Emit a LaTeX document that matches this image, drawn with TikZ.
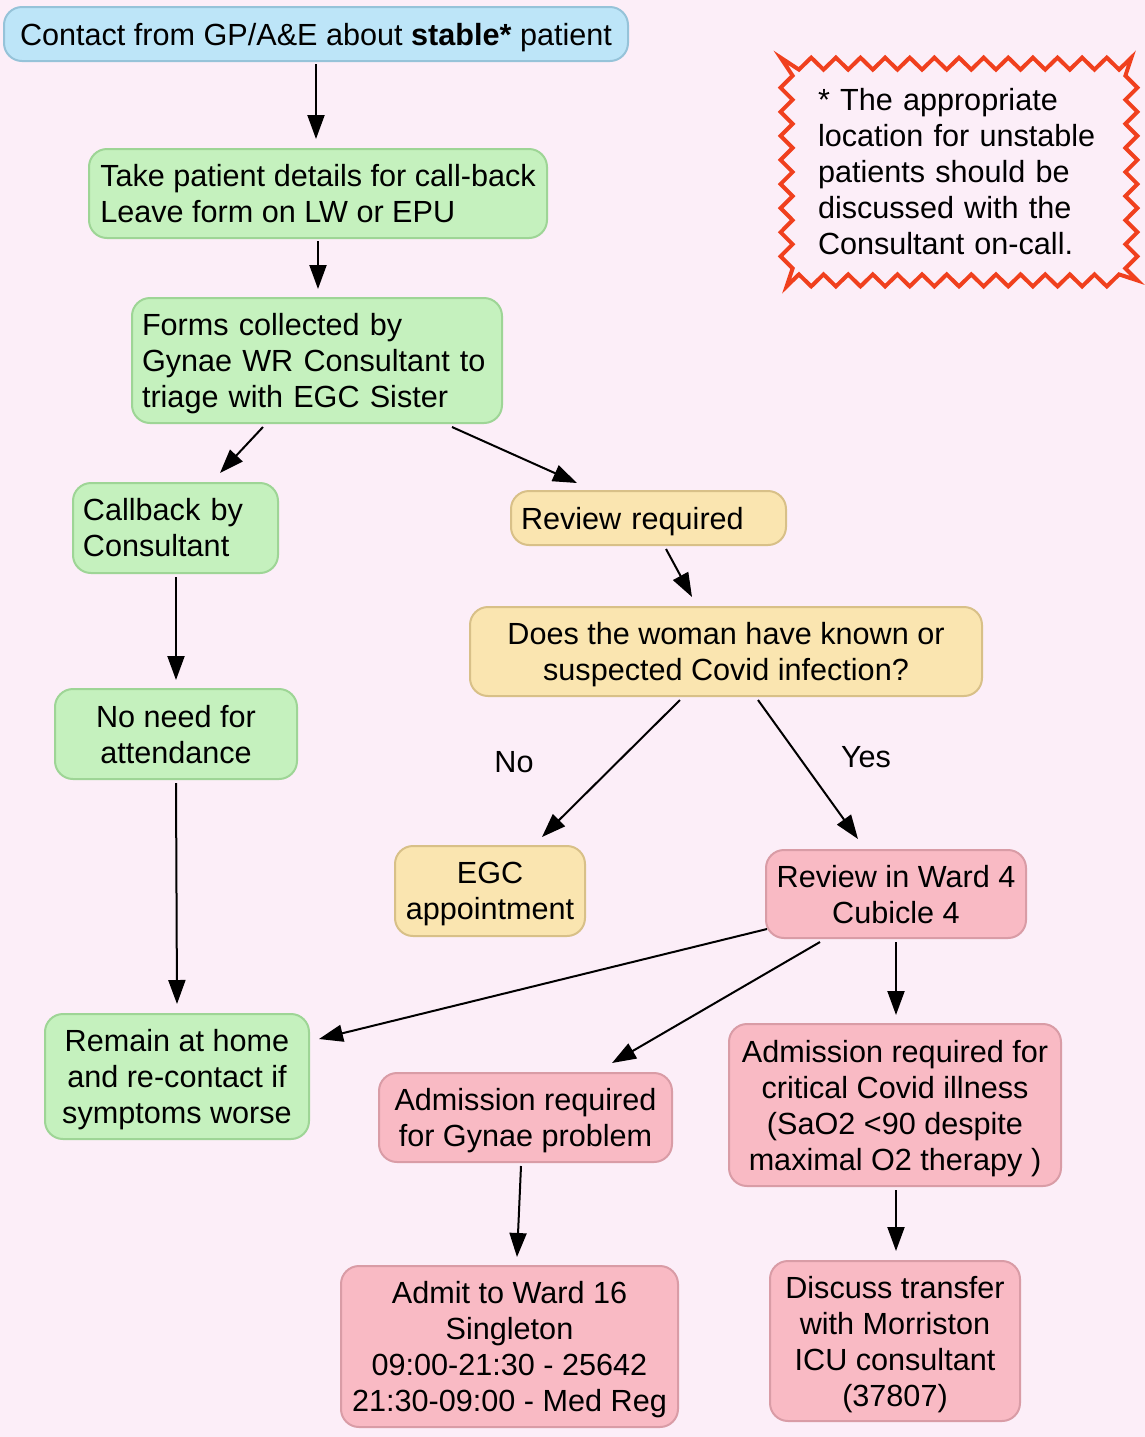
\documentclass[tikz,border=0pt]{standalone}
\usepackage{fontspec}
\setmainfont{Liberation Sans}
\usetikzlibrary{arrows.meta,calc}
\definecolor{bgc}{HTML}{FCEEF8}
\definecolor{bluefill}{HTML}{BDE5F8}
\definecolor{blueline}{HTML}{96C3D9}
\definecolor{greenfill}{HTML}{C5F1BE}
\definecolor{greenline}{HTML}{9ED596}
\definecolor{yellowfill}{HTML}{FAE5B0}
\definecolor{yellowline}{HTML}{D8C088}
\definecolor{pinkfill}{HTML}{F9BAC4}
\definecolor{pinkline}{HTML}{D99CA6}
\definecolor{zigc}{HTML}{F0401E}
\newcommand{\nodepth}[1]{\raisebox{0pt}[\height][0pt]{#1}}
\begin{document}
\begin{tikzpicture}[x=0.5pt,y=-0.5pt,
  txt/.style={font=\fontsize{15.3pt}{18pt}\selectfont},
  base/.style={txt, draw, line width=1pt, rounded corners=9pt, inner xsep=3pt, inner ysep=0pt},
  bluebox/.style={base, draw=blueline, fill=bluefill},
  greenbox/.style={base, draw=greenline, fill=greenfill},
  yellowbox/.style={base, draw=yellowline, fill=yellowfill},
  pinkbox/.style={base, draw=pinkline, fill=pinkfill},
  ctr/.style={align=center, text depth=0pt},
  leftbox/.style={align=left, inner xsep=5pt},
  notebox/.style={txt, align=left, inner ysep=0pt},
  zigline/.style={draw=zigc, line width=2pt, line join=miter},
  lbl/.style={txt, inner sep=0pt},
  arr/.style={line width=1pt, -{Triangle[length=12pt,width=8.5pt]}}
]
\fill[bgc] (0,0) rectangle (1145,1437);
\useasboundingbox (0,0) rectangle (1145,1437);

\node[bluebox, ctr, minimum width=312pt, minimum height=27pt] (n1) at (316,34)
  {Contact from GP/A\&E about \textbf{stable*} patient};
\node[greenbox, minimum width=229pt, minimum height=44.5pt, align=left, text depth=0pt] (n2) at (318,193.5)
  {Take patient details for call-back\\Leave form on LW or EPU};
\node[greenbox, leftbox, text width=175pt, minimum height=62.5pt] (n3) at (317,360.5)
  {Forms collected by\\Gynae WR Consultant to\\\nodepth{triage with EGC Sister}};
\node[greenbox, leftbox, text width=92.5pt, minimum height=45pt] (n4) at (175.5,528)
  {Callback by\\Consultant};
\node[yellowbox, leftbox, text width=127.5pt, minimum height=27pt] (n5) at (648.5,518)
  {\nodepth{Review required}};
\node[yellowbox, ctr, minimum width=256pt, minimum height=44.5pt] (n6) at (726,651.5)
  {Does the woman have known or\\suspected Covid infection?};
\node[greenbox, ctr, minimum width=121pt, minimum height=45pt] (n7) at (176,734)
  {No need for\\attendance};
\node[yellowbox, ctr, minimum width=95pt, minimum height=45pt] (n8) at (490,891)
  {EGC\\appointment};
\node[pinkbox, ctr, minimum width=130pt, minimum height=44pt] (n9) at (896,894)
  {Review in Ward 4\\Cubicle 4};
\node[greenbox, ctr, minimum width=132pt, minimum height=62.5pt] (n10) at (177,1076.5)
  {Remain at home\\and re-contact if\\symptoms worse};
\node[pinkbox, ctr, minimum width=146.5pt, minimum height=44.5pt] (n11) at (525.5,1117.5)
  {Admission required\\for Gynae problem};
\node[pinkbox, ctr, minimum width=166pt, minimum height=81pt] (n12) at (895,1105)
  {Admission required for\\critical Covid illness\\(SaO2 <90 despite\\maximal O2 therapy )};
\node[pinkbox, ctr, minimum width=168.5pt, minimum height=80.5pt] (n13) at (509.5,1346.5)
  {Admit to Ward 16\\Singleton\\09:00-21:30 - 25642\\21:30-09:00 - Med Reg};
\node[pinkbox, ctr, minimum width=125pt, minimum height=80pt] (n14) at (895,1341)
  {Discuss transfer\\with Morriston\\ICU consultant\\(37807)};

\node[notebox, text width=141pt, inner xsep=15.5pt, minimum width=172pt, minimum height=108pt] (note) at (959,172)
  {* The appropriate\\location for unstable\\patients should be\\discussed with the\\Consultant on-call.};
\draw[zigline]
  ($(note.north west)+(-6,-6)$)
  \foreach \i in {1,...,28} { -- ($(note.north west)!{\i/28}!(note.north east)+(0,{-6*cos(180*\i)})$) }
  \foreach \i in {1,...,18} { -- ($(note.north east)!{\i/18}!(note.south east)+({6*cos(180*\i)},0)$) }
  \foreach \i in {1,...,28} { -- ($(note.south east)!{\i/28}!(note.south west)+(0,{6*cos(180*\i)})$) }
  \foreach \i in {1,...,17} { -- ($(note.south west)!{\i/18}!(note.north west)+({-6*cos(180*\i)},0)$) }
  -- cycle;

\node[lbl] (no) at (514,762) {No};
\node[lbl] (yes) at (866,757) {Yes};

\draw[arr] ($(n1.south)+(0,2)$) -- ($(n2.north)+(-2,-9)$);
\draw[arr] ($(n2.south)+(0,2)$) -- ($(n3.north)+(1,-8)$);
\draw[arr] ($(n3.south)+(-54,3)$) -- ($(n4.north)+(44.5,-9)$);
\draw[arr] ($(n3.south)+(135,3)$) -- ($(n5.north)+(-71.5,-7)$);
\draw[arr] ($(n5.south)+(17.5,3)$) -- ($(n6.north)+(-34,-9)$);
\draw[arr] ($(n4.south)+(0.5,3)$) -- ($(n7.north)+(0,-8)$);
\draw[arr] ($(n6.south)+(-46,3)$) -- ($(n8.north)+(52,-8)$);
\draw[arr] ($(n6.south)+(32,3)$) -- ($(n9.north)+(-38,-10)$);
\draw[arr] ($(n7.south)+(0,3)$) -- ($(n10.north)+(0,-9)$);
\draw[arr] ($(n9.south west)+(2,-10)$) -- ($(n10.north east)+(9,26)$);
\draw[arr] ($(n9.south)+(-76,3)$) -- ($(n11.north)+(86.5,-9)$);
\draw[arr] ($(n9.south)+(0,3)$) -- ($(n12.north)+(1,-8)$);
\draw[arr] ($(n11.south)+(-4.5,3)$) -- ($(n13.north)+(7.5,-8)$);
\draw[arr] ($(n12.south)+(1,3)$) -- ($(n14.north)+(1,-9)$);
\end{tikzpicture}
\end{document}
